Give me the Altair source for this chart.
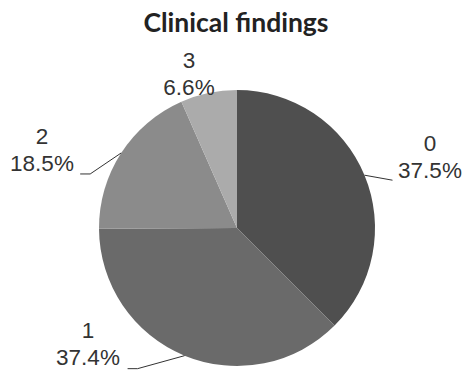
import math
import altair as alt
import pandas as pd

# Slice data
categories = ["0", "1", "2", "3"]
percents = [37.5, 37.4, 18.5, 6.6]
slice_colors = ["#4f4f4f", "#6a6a6a", "#8b8b8b", "#ababab"]

W, H = 465, 372
CX, CY, R = 237, 228, 138

pie_df = pd.DataFrame({"category": categories, "percent": percents,
                       "order": list(range(len(categories)))})

# Mid-angle of each slice (clockwise from 12 o'clock), derived from the values
total = sum(percents)
mids = []
acc = 0.0
for p in percents:
    mids.append((acc + p / 2) / total * 2 * math.pi)
    acc += p


def edge(i, r=R):
    a = mids[i]
    return CX + r * math.sin(a), CY - r * math.cos(a)


# Leader lines: edge of slice -> elbow -> end (offsets relative to the edge point)
leader_rows = []
leader_shape = {
    0: [(0, 0), (28, 5)],
    1: [(0, 0), (-47, 13), (-57, 13)],
    2: [(0, 0), (-31, 21), (-41, 21)],
}
for i, pts in leader_shape.items():
    ex, ey = edge(i)
    for k, (dx, dy) in enumerate(pts):
        leader_rows.append({"slice": categories[i], "k": k, "x": ex + dx, "y": ey + dy})
leader_df = pd.DataFrame(leader_rows)

# Label anchors: centre of the percentage line, placed off the leader end
label_anchor = {0: (430, 171), 1: (88, 358), 2: (42, 164), 3: (189, 88)}
label_rows = []
for i, c in enumerate(categories):
    x, y = label_anchor[i]
    label_rows.append({"category": c, "pct": f"{percents[i]}%", "x": x, "y": y})
label_df = pd.DataFrame(label_rows)

xs = alt.Scale(domain=[0, W], range=[0, W])
ys = alt.Scale(domain=[0, H], range=[0, H])

pie = alt.Chart(pie_df).mark_arc(radius=R, stroke=None).encode(
    theta=alt.Theta("percent:Q", stack=True),
    order=alt.Order("order:Q"),
    color=alt.Color("category:N", scale=alt.Scale(domain=categories, range=slice_colors), legend=None),
    x=alt.value(CX),
    y=alt.value(CY),
)

leaders = alt.Chart(leader_df).mark_line(color="#333333", strokeWidth=1).encode(
    x=alt.X("x:Q", scale=xs, axis=None),
    y=alt.Y("y:Q", scale=ys, axis=None),
    detail="slice:N",
    order="k:Q",
)

pct_text = alt.Chart(label_df).mark_text(
    font="Liberation Sans", fontSize=22.5, color="#333333", align="center", baseline="middle"
).encode(
    x=alt.X("x:Q", scale=xs, axis=None),
    y=alt.Y("y:Q", scale=ys, axis=None),
    text="pct:N",
)

cat_text = alt.Chart(label_df).mark_text(
    font="Liberation Sans", fontSize=22.5, color="#333333", align="center", baseline="middle", dy=-27
).encode(
    x=alt.X("x:Q", scale=xs, axis=None),
    y=alt.Y("y:Q", scale=ys, axis=None),
    text="category:N",
)

title = alt.Chart(pd.DataFrame({"t": ["Clinical findings"]})).mark_text(
    font="Lato", fontSize=26.5, fontWeight="bold", color="#222222", align="center", baseline="middle"
).encode(
    x=alt.value(236),
    y=alt.value(24),
    text="t:N",
)

chart = alt.layer(pie, leaders, pct_text, cat_text, title).properties(
    width=W, height=H, autosize=alt.AutoSizeParams(type="none"), padding=0,
    background="white",
).configure_view(stroke=None)

chart.save("out.html", embed_options={"renderer": "svg", "actions": False})
